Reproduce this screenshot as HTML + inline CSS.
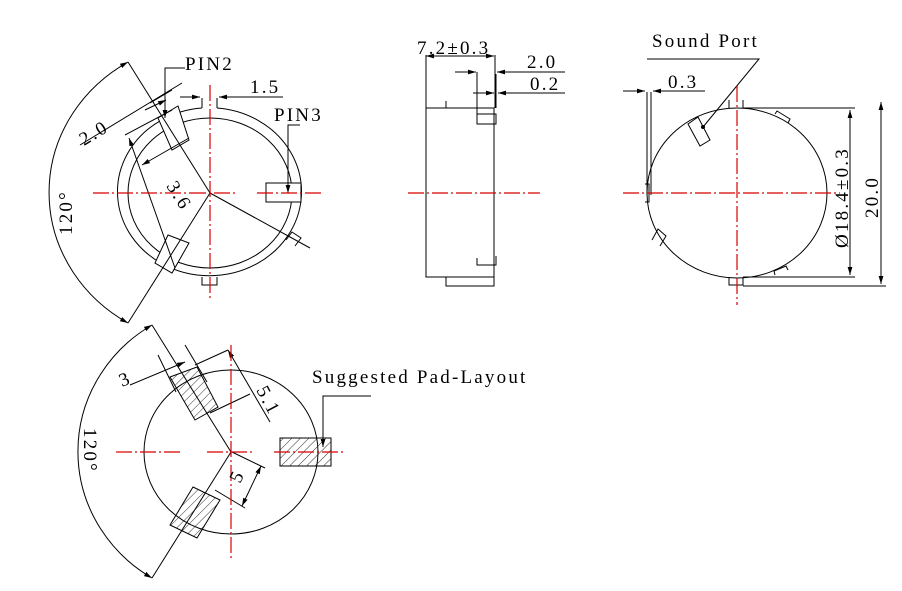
<!DOCTYPE html>
<html><head><style>
html,body{margin:0;padding:0;background:#fff;}
svg{display:block;}
text{font-family:"Liberation Serif",serif;fill:#000;letter-spacing:2.2px;}
</style></head><body>
<svg width="902" height="591" viewBox="0 0 902 591" xmlns="http://www.w3.org/2000/svg">
<defs>
<marker id="a" viewBox="0 0 10 6" refX="10" refY="3" markerWidth="8" markerHeight="5" orient="auto-start-reverse"><path d="M0,0 L10,3 L0,6z" fill="#000"/></marker>
<pattern id="h" width="6" height="6" patternUnits="userSpaceOnUse" patternTransform="rotate(45)"><line x1="0" y1="0" x2="0" y2="6" stroke="#000" stroke-width="0.8"/></pattern>
</defs>
<g fill="none" stroke="#000" stroke-width="1">
<path d="M202,108 A92,84 0 1 0 217,108"/>
<ellipse cx="210" cy="193" rx="82" ry="75"/>
<path d="M202,108 L202,98 M217,108 L217,98"/>
<path d="M202,277 L202,285 L217,285 L217,277"/>
<path d="M286,240 L292,232 L301,238 L295,246"/>
<polygon points="158,118 178,106 189,140 172,150" fill="#fff"/>
<polygon points="168,235 189,243 172,273 155,263" fill="#fff"/>
<rect x="266" y="183" width="35" height="19" fill="#fff"/>
<line x1="210" y1="193" x2="128" y2="62"/>
<line x1="210" y1="193" x2="128" y2="323"/>
<line x1="210" y1="193" x2="310" y2="248"/>
<path d="M128,62 A162,152 0 0 0 128,323" marker-start="url(#a)" marker-end="url(#a)"/>
<line x1="80" y1="145" x2="182" y2="83" />
<line x1="145" y1="110" x2="166" y2="100" marker-end="url(#a)"/>
<line x1="172" y1="90" x2="150" y2="103"/>
<line x1="129" y1="138" x2="175" y2="268" marker-start="url(#a)"/>
<line x1="125" y1="135" x2="172" y2="110"/>
<line x1="142" y1="165" x2="189" y2="138" marker-start="url(#a)"/>
<line x1="180" y1="97" x2="200" y2="97" marker-end="url(#a)"/>
<line x1="283" y1="97" x2="219" y2="97" marker-end="url(#a)"/>
<path d="M185,68 L165,68 L165,118" marker-end="url(#a)"/>
<path d="M300,125 L288,125 L288,193" marker-end="url(#a)"/>
<rect x="426" y="108" width="68" height="169"/>
<rect x="446" y="277" width="48" height="9"/>
<path d="M477,108 L477,114 L496,114 L496,124 L477,124 L477,114"/>
<path d="M496,108 L496,74 M477,108 L477,72 M426,108 L426,55 M495,108 L495,55 M446,108 L446,101"/>
<path d="M477,258 L477,265 L496,265 L496,256"/>
<line x1="426" y1="56" x2="494" y2="56" marker-start="url(#a)" marker-end="url(#a)"/>
<line x1="455" y1="72" x2="476" y2="72" marker-end="url(#a)"/>
<line x1="565" y1="72" x2="497" y2="72" marker-end="url(#a)"/>
<line x1="473" y1="93" x2="494" y2="93" marker-end="url(#a)"/>
<line x1="565" y1="93" x2="498" y2="93" marker-end="url(#a)"/>
<ellipse cx="737" cy="193" rx="90" ry="85"/>
<path d="M645,184 L649,184 L649,202 L645,202"/>
<path d="M647,92 L647,195 M651,92 L651,195"/>
<line x1="623" y1="91" x2="645" y2="91" marker-end="url(#a)"/>
<line x1="705" y1="91" x2="653" y2="91" marker-end="url(#a)"/>
<path d="M688,124 L698,117 L710,140 L700,146z"/>
<path d="M652,240 L658,229 L666,236 L660,246"/>
<path d="M775,114 L777,111 L790,119 L788,123"/>
<path d="M775,275 L774,271 L786,266 L788,270"/>
<path d="M729,277 L729,285 L743,285 L743,277"/>
<path d="M729,108 L729,100 M743,108 L743,100"/>
<path d="M743,108 L855,108 M743,277 L855,277 M743,286 L886,286"/>
<line x1="850" y1="110" x2="850" y2="275" marker-start="url(#a)" marker-end="url(#a)"/>
<line x1="881" y1="102" x2="881" y2="284" marker-start="url(#a)" marker-end="url(#a)"/>
<path d="M647,59 L759,59 L703,127" />
<circle cx="703" cy="127" r="1.5" fill="#000"/>
<ellipse cx="231" cy="452" rx="87" ry="82"/>
<polygon points="170,377 197,367 218,407 195,420" fill="url(#h)"/>
<polygon points="193,487 220,500 197,538 170,525" fill="url(#h)"/>
<rect x="280" y="438" width="51" height="28" fill="url(#h)"/>
<line x1="231" y1="452" x2="152" y2="325"/>
<line x1="231" y1="452" x2="152" y2="578"/>
<path d="M152,325 A154,148 0 0 0 152,578" marker-start="url(#a)" marker-end="url(#a)"/>
<line x1="130" y1="385" x2="185" y2="362" marker-end="url(#a)"/>
<line x1="158" y1="355" x2="176" y2="392"/>
<line x1="185" y1="345" x2="207" y2="382"/>
<line x1="195" y1="365" x2="228" y2="350"/>
<line x1="228" y1="350" x2="270" y2="422" marker-start="url(#a)"/>
<line x1="210" y1="413" x2="250" y2="394"/>
<line x1="232" y1="452" x2="265" y2="468"/>
<line x1="261" y1="466" x2="242" y2="506" marker-start="url(#a)" marker-end="url(#a)"/>
<line x1="215" y1="490" x2="245" y2="508"/>
<path d="M371,396 L323,396 L323,447" marker-end="url(#a)"/>
</g>
<g stroke="#d80000" stroke-width="1.2" stroke-dasharray="16,3,2,3" fill="none">
<line x1="93" y1="193" x2="190" y2="193"/><line x1="190" y1="193" x2="235" y2="193"/>
<line x1="257" y1="193" x2="323" y2="193"/>
<line x1="210" y1="85" x2="210" y2="300"/>
<line x1="408" y1="193" x2="540" y2="193"/>
<line x1="623" y1="193" x2="840" y2="193"/>
<line x1="737" y1="86" x2="737" y2="305"/>
<line x1="116" y1="452" x2="183" y2="452"/><line x1="207" y1="452" x2="255" y2="452"/>
<line x1="274" y1="452" x2="345" y2="452"/>
<line x1="231" y1="345" x2="231" y2="560"/>
</g>
<g font-size="19">
<text x="185" y="70">PIN2</text>
<text x="250" y="93">1.5</text>
<text x="274" y="121">PIN3</text>
<text transform="translate(84,146) rotate(-31)">2.0</text>
<text transform="translate(166,186) rotate(58)">3.6</text>
<text transform="translate(72,235) rotate(-90)">120°</text>
<text x="417" y="54">7.2±0.3</text>
<text x="527" y="68">2.0</text>
<text x="530" y="90">0.2</text>
<text x="652" y="47">Sound Port</text>
<text x="668" y="88">0.3</text>
<text transform="translate(848,248) rotate(-90)">Ø18.4±0.3</text>
<text transform="translate(878,218) rotate(-90)">20.0</text>
<text transform="translate(122,387) rotate(-22)">3</text>
<text transform="translate(256,390) rotate(62)">5.1</text>
<text transform="translate(240,484) rotate(-64)">5</text>
<text transform="translate(84,428) rotate(90)">120°</text>
<text x="312" y="383">Suggested Pad-Layout</text>
</g>
</svg>
</body></html>
